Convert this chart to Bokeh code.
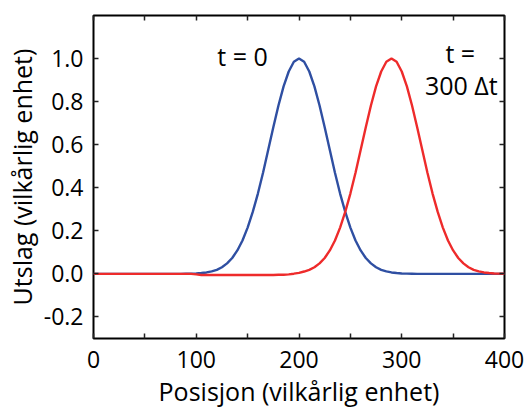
from bokeh.plotting import figure
from bokeh.models import LinearAxis, FixedTicker, NumeralTickFormatter, Range1d, Label
from bokeh.embed import file_html
from bokeh.resources import INLINE

# Position samples (x) and read-off displacement values
x_pos = [i * 5 for i in range(81)]

blue_t0 = ([0.0] * 18 +
           [0.0006, 0.0011, 0.0021, 0.0039, 0.0068, 0.012, 0.019, 0.031, 0.049, 0.074,
            0.109, 0.155, 0.215, 0.288, 0.373, 0.470, 0.575, 0.681, 0.782, 0.871,
            0.940, 0.985, 1.000, 0.985, 0.940, 0.871, 0.782, 0.681, 0.575, 0.470,
            0.373, 0.288, 0.215, 0.155, 0.109, 0.074, 0.049, 0.031, 0.019, 0.012,
            0.0068, 0.0039, 0.0021, 0.0011, 0.0006] +
           [0.0] * 18)

red_t300 = ([0.0] * 20 +
            [-0.002] +
            [-0.005] * 15 +
            [-0.004, -0.004, -0.002, 0.001, 0.005, 0.011,
             0.019, 0.031, 0.049, 0.074, 0.109, 0.155, 0.215, 0.288, 0.373, 0.470,
             0.575, 0.681, 0.782, 0.871, 0.940, 0.985, 1.000, 0.985, 0.940, 0.871,
             0.782, 0.681, 0.575, 0.470, 0.373, 0.288, 0.215, 0.155, 0.109, 0.074,
             0.049, 0.031, 0.019, 0.012, 0.0068, 0.0039, 0.0021, 0.0011, 0.0006])

x_major = [0, 100, 200, 300, 400]
x_minor = [50, 150, 250, 350]
y_major = [-0.2, 0.0, 0.2, 0.4, 0.6, 0.8, 1.0]

FONT = "Open Sans"

p = figure(width=525, height=410, output_backend="svg", toolbar_location=None,
           x_range=Range1d(0, 400), y_range=Range1d(-0.3, 1.2),
           min_border_left=93, min_border_right=21, min_border_top=15, min_border_bottom=70,
           x_axis_label="Posisjon (vilkårlig enhet)", y_axis_label="Utslag (vilkårlig enhet)")

p.grid.visible = False
p.outline_line_color = "black"
p.outline_line_width = 2
p.background_fill_color = "white"
p.border_fill_color = "white"

def style_axis(ax, labels=True):
    ax.axis_line_color = None
    ax.major_tick_in = 5
    ax.major_tick_out = 0
    ax.minor_tick_in = 5
    ax.minor_tick_out = 0
    ax.major_tick_line_color = "#222222"
    ax.minor_tick_line_color = "#222222"
    ax.major_tick_line_width = 1.5
    ax.minor_tick_line_width = 1.5
    ax.major_label_text_font = FONT
    ax.major_label_text_font_size = "23px"
    ax.major_label_text_color = "black"
    ax.axis_label_text_font = FONT
    ax.axis_label_text_font_size = "25px"
    ax.axis_label_text_font_style = "normal"
    ax.axis_label_text_color = "black"
    if not labels:
        ax.major_label_text_alpha = 0
        ax.major_label_text_font_size = "1px"
        ax.major_label_standoff = 0

xt = FixedTicker(ticks=x_major, minor_ticks=x_minor)
yt = FixedTicker(ticks=y_major, minor_ticks=[])

p.xaxis.ticker = xt
p.yaxis.ticker = yt
p.yaxis.formatter = NumeralTickFormatter(format="0.0")
style_axis(p.xaxis[0])
style_axis(p.yaxis[0])
p.xaxis.major_label_standoff = 12
p.yaxis.major_label_standoff = 10
p.xaxis.axis_label_standoff = 3
p.yaxis.axis_label_standoff = 2

top = LinearAxis(ticker=FixedTicker(ticks=x_major, minor_ticks=x_minor))
style_axis(top, labels=False)
p.add_layout(top, "above")
right = LinearAxis(ticker=FixedTicker(ticks=y_major, minor_ticks=[]))
style_axis(right, labels=False)
p.add_layout(right, "right")

p.line(x_pos, blue_t0, line_color="#2f4fa2", line_width=2.4)
p.line(x_pos, red_t300, line_color="#ee2b2b", line_width=2.4)

for txt, xx, yy in [("t = 0", 145, 1.014), ("t =", 357, 1.025), ("300 Δt", 358, 0.875)]:
    p.add_layout(Label(x=xx, y=yy, text=txt, text_align="center", text_baseline="middle",
                       text_font=FONT, text_font_size="25px", text_color="black"))

open("out.html", "w").write(file_html(p, INLINE))
